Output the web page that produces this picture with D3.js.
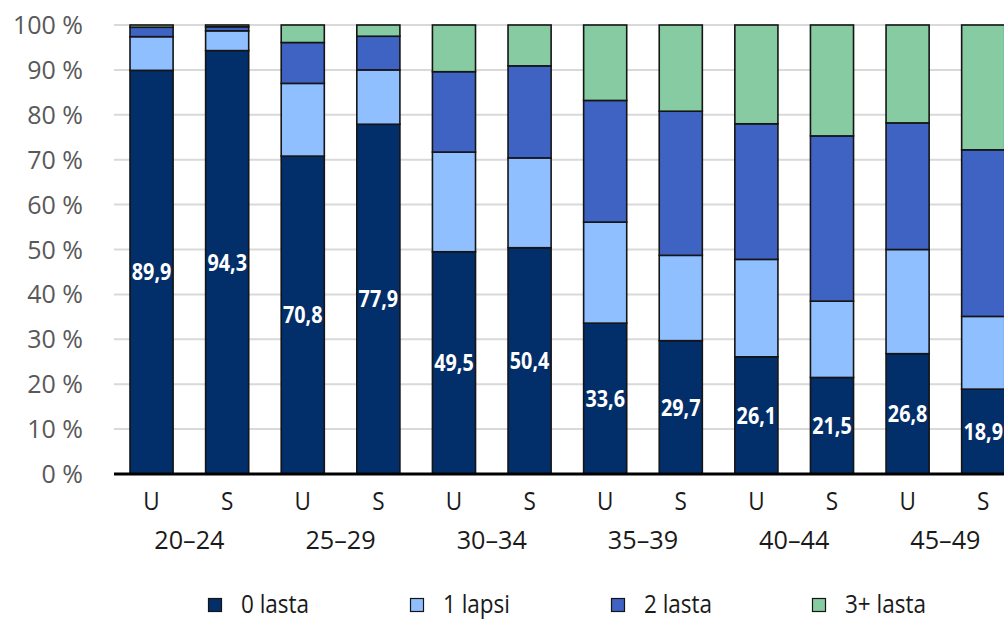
<!DOCTYPE html>
<html>
<head>
<meta charset="utf-8">
<script src="https://cdn.jsdelivr.net/npm/d3@7"></script>
<style>
  html, body { margin: 0; padding: 0; background: #fff; }
  svg { display: block; }
</style>
</head>
<body>
<svg id="chart" width="1004" height="619"></svg>
<script>
// Age groups, each split into two bars (U, S)
const ageGroups = ["20–24", "25–29", "30–34", "35–39", "40–44", "45–49"];
const subGroups = ["U", "S"];
const seriesNames = ["0 lasta", "1 lapsi", "2 lasta", "3+ lasta"];

// Share of each number of children, in percent, bar by bar (U, S, U, S, ...)
const zeroKids  = [89.9, 94.3, 70.8, 77.9, 49.5, 50.4, 33.6, 29.7, 26.1, 21.5, 26.8, 18.9];
const oneKid    = [7.5, 4.4, 16.2, 12.1, 22.2, 20.0, 22.5, 19.0, 21.7, 17.0, 23.2, 16.2];
const twoKids   = [2.1, 0.9, 9.1, 7.5, 17.9, 20.5, 27.1, 32.1, 30.2, 36.8, 28.2, 37.1];
const threePlus = [0.5, 0.4, 3.9, 2.5, 10.4, 9.1, 16.8, 19.2, 22.0, 24.7, 21.8, 27.8];

const yTicks = [0, 10, 20, 30, 40, 50, 60, 70, 80, 90, 100];
const colors = ["#022e69", "#8fbfff", "#3f63c2", "#86cba2"];

const seriesKeys = ["k0", "k1", "k2", "k3"];
const rows = [];
ageGroups.forEach((g, gi) => {
  subGroups.forEach((s, si) => {
    const i = gi * 2 + si;
    rows.push({ id: i, group: g, sub: s,
      k0: zeroKids[i], k1: oneKid[i], k2: twoKids[i], k3: threePlus[i] });
  });
});

const FONT = "'Open Sans', 'Noto Sans', sans-serif";
const svg = d3.select("#chart");
const plotLeft = 114, plotRight = 1004;

const x = d3.scaleBand()
  .domain(rows.map(d => d.id))
  .range([113.75, 1021])
  .paddingInner(0.43)
  .paddingOuter(0.215);

const y = d3.scaleLinear().domain([0, 100]).range([474, 25]);

// Text placed at (px, py) and narrowed horizontally by sx
function narrowText(sel, px, py, sx) {
  return sel.attr("transform", (d, i) => `translate(${px(d, i)},${py(d, i)}) scale(${sx},1)`);
}

// Gridlines
svg.append("g")
  .selectAll("line")
  .data(yTicks.filter(t => t > 0))
  .join("line")
  .attr("x1", plotLeft).attr("x2", plotRight)
  .attr("y1", d => y(d)).attr("y2", d => y(d))
  .attr("stroke", "#d9d9d9").attr("stroke-width", 2);

// Y axis labels
svg.append("g")
  .selectAll("text")
  .data(yTicks)
  .join("text")
  .attr("x", 83).attr("y", d => y(d))
  .attr("dy", "0.36em")
  .attr("text-anchor", "end")
  .attr("font-family", FONT)
  .attr("font-size", 25)
  .attr("fill", "#595959")
  .text(d => d + " %");

// Stacked bars
const stacked = d3.stack().keys(seriesKeys)(rows);

svg.append("g")
  .selectAll("g")
  .data(stacked)
  .join("g")
  .attr("fill", (d, i) => colors[i])
  .selectAll("rect")
  .data(d => d)
  .join("rect")
  .attr("x", d => x(d.data.id))
  .attr("width", x.bandwidth())
  .attr("y", d => y(d[1]))
  .attr("height", d => y(d[0]) - y(d[1]))
  .attr("stroke", "#151515")
  .attr("stroke-width", 1.6);

// Value labels inside the "0 lasta" segment
svg.append("g")
  .selectAll("text")
  .data(stacked[0])
  .join("text")
  .call(narrowText,
        d => x(d.data.id) + x.bandwidth() / 2,
        d => y((d[0] + d[1]) / 2),
        0.86)
  .attr("dy", "0.36em")
  .attr("text-anchor", "middle")
  .attr("font-family", FONT)
  .attr("font-weight", "bold")
  .attr("font-size", 23)
  .attr("fill", "#ffffff")
  .text(d => d3.format(".1f")(d.data.k0).replace(".", ","));

// Zero baseline
svg.append("line")
  .attr("x1", plotLeft).attr("x2", plotRight)
  .attr("y1", y(0)).attr("y2", y(0))
  .attr("stroke", "#000").attr("stroke-width", 3);

// Category labels: U / S under each bar, age group under each pair
svg.append("g")
  .selectAll("text")
  .data(rows)
  .join("text")
  .call(narrowText, d => x(d.id) + x.bandwidth() / 2, () => 510, 0.9)
  .attr("text-anchor", "middle")
  .attr("font-family", FONT)
  .attr("font-size", 25)
  .attr("fill", "#1a1a1a")
  .text(d => d.sub);

svg.append("g")
  .selectAll("text")
  .data(ageGroups)
  .join("text")
  .call(narrowText,
        (g, gi) => (x(gi * 2) + x(gi * 2 + 1) + x.bandwidth()) / 2,
        () => 549, 0.97)
  .attr("text-anchor", "middle")
  .attr("font-family", FONT)
  .attr("font-size", 26)
  .attr("fill", "#1a1a1a")
  .text(d => d);

// Legend
const legendX = [208, 410, 611, 812];
const legend = svg.append("g")
  .selectAll("g")
  .data(seriesNames)
  .join("g")
  .attr("transform", (d, i) => `translate(${legendX[i]},604)`);

legend.append("rect")
  .attr("x", 0.5).attr("y", -5.5)
  .attr("width", 13).attr("height", 13)
  .attr("fill", (d, i) => colors[i])
  .attr("stroke", "#151515").attr("stroke-width", 1.2);

legend.append("text")
  .attr("transform", "translate(33,0) scale(0.9,1)")
  .attr("dy", "0.34em")
  .attr("font-family", FONT)
  .attr("font-size", 25)
  .attr("fill", "#1a1a1a")
  .text(d => d);
</script>
</body>
</html>
